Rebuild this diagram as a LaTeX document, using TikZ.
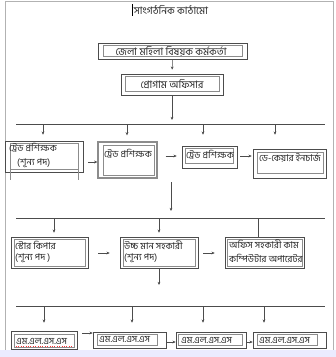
\documentclass[tikz,border=0pt]{standalone}
\usepackage{fontspec}
\newfontfamily\bn[Script=Bengali]{Hind Siliguri}
\usetikzlibrary{arrows.meta,fit}
\begin{document}
\begin{tikzpicture}[x=1pt,y=-1pt,
  outerbox/.style={draw=black!70, line width=0.6pt, inner sep=0pt, fill=none},
  shadowbox/.style={draw=black!45, line width=1.3pt, inner sep=0pt},
  innerbox/.style={draw=black!45, line width=0.4pt, inner sep=0pt},
  lbl/.style={font=\bn\fontsize{9.4}{11}\selectfont, text=black!85, inner sep=0pt, anchor=west},
  biglbl/.style={lbl, font=\bn\fontsize{10.3}{11}\selectfont},
  conn/.style={draw=black!70, line width=0.5pt},
  arr/.style={conn, -{Stealth[length=3.2pt,width=2.8pt]}},
]
\useasboundingbox (0,0) rectangle (336,357);
\fill[white] (0,0) rectangle (336,357);
\fill[blue!8!white] (0,350) rectangle (336,357);
\draw[black!30, line width=0.5pt] (5,350) -- (5,1) -- (333,1) -- (333,350);

% title
\node[biglbl, anchor=center] (title) at (171,10) {সাংগঠনিক কাঠামো};
\draw[black, line width=0.6pt] (title.west) ++(-1,-6) -- ++(0,12);

% level 1
\node[outerbox, fit={(98,43) (247,59)}] (b1) {};
\node[innerbox, fit={(103,45.5) (242,56)}] (b1i) {};
\node[biglbl, anchor=center] (t1) at (171,51) {জেলা মহিলা বিষয়ক কর্মকর্তা};

\node[outerbox, fit={(121,74) (223,95)}] (b2) {};
\node[innerbox, fit={(125,76.5) (219,91)}] (b2i) {};
\node[biglbl, anchor=center] (t2) at (172,84) {প্রোগাম অফিসার};

\draw[arr, shorten >=4pt] (b1.south) -- (b2.north);

% bus 1
\coordinate (bus1L) at (16,124);
\coordinate (bus1R) at (325,124);
\draw[conn] (bus1L) -- (bus1R);
\draw[arr, shorten >=4pt] (b2.south) -- (b2.south |- bus1L);

% row 2
\node[outerbox, fit={(5,141) (83,172)}] (bA) {};
\node[innerbox, fit={(10,143) (78,169)}] (bAi) {};
\draw[black!45, line width=0.4pt] (bAi.south west) -- ++(0,11) (bAi.south east) -- ++(0,11);
\node[lbl] (tA1) at (9,148) {ট্রেড প্রশিক্ষক};
\node[lbl] (tA2) at (17,163) {(শূন্য পদ)};

\node[shadowbox, fit={(98,142) (157,178)}] (bB) {};
\node[innerbox, fit={(103,145) (154,175)}] (bBi) {};
\node[lbl] (tB) at (104,154) {ট্রেড প্রশিক্ষক};

\node[outerbox, fit={(182,146) (237,168)}] (bC) {};
\node[innerbox, fit={(185,148) (233,163)}] (bCi) {};
\node[lbl] (tC) at (186,155) {ট্রেড প্রশিক্ষক};

\node[outerbox, fit={(253,149) (326,178)}] (bD) {};
\node[innerbox, fit={(257,152) (323,173)}] (bDi) {};
\node[lbl] (tD) at (259,158) {ডে-কেয়ার ইনচার্জ};

\coordinate (xA) at (43,124);
\coordinate (xB) at (127,124);
\coordinate (xC) at (203,124);
\coordinate (xD) at (275,124);
\draw[arr, shorten >=6pt] (xA) -- (xA |- bA.north);
\draw[arr, shorten >=6pt] (xB) -- (xB |- bB.north);
\draw[arr, shorten >=11pt] (xC) -- (xC |- bC.north);
\draw[arr, shorten >=14pt] (xD) -- (xD |- bD.north);

\coordinate (yAB) at (0,162);
\coordinate (yBC) at (0,156);
\draw[arr, shorten <=5pt] (bA.east |- yAB) -- (bB.west |- yAB);
\draw[arr, shorten <=8pt, shorten >=5pt] (bB.east |- yBC) -- (bC.west |- yBC);
\draw[arr, shorten <=3pt, shorten >=1pt] (bC.east |- yBC) -- (bD.west |- yBC);

% spine to bus 2
\coordinate (spine2) at (171,182);
\coordinate (bus2L) at (16,218);
\coordinate (bus2R) at (325,218);
\draw[conn] (bus2L) -- (bus2R);
\draw[arr, shorten >=7pt] (spine2) -- (spine2 |- bus2L);

% row 3
\node[outerbox, fit={(11,237) (88,268)}] (bE) {};
\node[innerbox, fit={(14,239) (85,266)}] (bEi) {};
\node[lbl] (tE1) at (15,245) {স্টোর কিপার};
\node[lbl] (tE2) at (15,258) {(শূন্য পদ )};

\node[outerbox, fit={(120,237) (198,268)}] (bF) {};
\node[innerbox, fit={(123,239) (195,266)}] (bFi) {};
\node[lbl] (tF1) at (124,245) {উচ্চ মান সহকারী};
\node[lbl] (tF2) at (124,258) {(শূন্য পদ)};

\node[outerbox, fit={(225,237) (304,268)}] (bG) {};
\node[innerbox, fit={(227,239) (302,266)}] (bGi) {};
\node[lbl] (tG1) at (229,244) {অফিস সহকারী কাম};
\node[lbl] (tG2) at (229,258) {কম্পিউটার অপারেটর};

\coordinate (xE) at (54,218);
\coordinate (xF) at (159,218);
\coordinate (xG) at (258,218);
\draw[arr, shorten >=4pt] (xE) -- (xE |- bE.north);
\draw[arr, shorten >=4pt] (xF) -- (xF |- bF.north);
\draw[conn] (xG) -- (xG |- bG.north);

\coordinate (yEF) at (0,253);
\draw[arr, shorten <=10pt, shorten >=10pt] (bE.east |- yEF) -- (bF.west |- yEF);
\draw[arr, shorten <=5pt, shorten >=10pt] (bF.east |- yEF) -- (bG.west |- yEF);

% F down
\coordinate (fend) at (159,285);
\draw[arr] (bF.south) -- (fend);

% bus 3
\coordinate (bus3L) at (16,306);
\coordinate (bus3R) at (325,306);
\draw[conn] (bus3L) -- (bus3R);

% row 4
\node[outerbox, fit={(11,331) (77,349)}] (bH) {};
\node[innerbox, fit={(14,334) (74,347)}] (bHi) {};
\node[lbl] (tH) at (16,341) {এম.এল.এস.এস};
\draw[red!80, line width=0.4pt, dotted] (16,346) -- (72,346);

\node[outerbox, fit={(93,332) (166,348)}] (bI) {};
\node[innerbox, fit={(97,334) (157,345)}] (bIi) {};
\node[lbl] (tI) at (99,339.5) {এম.এল.এস.এস};

\node[outerbox, fit={(176,332) (246,348)}] (bJ) {};
\node[innerbox, fit={(178,334) (242,345)}] (bJi) {};
\node[lbl] (tJ) at (181,340) {এম.এল.এস.এস};

\node[outerbox, fit={(253,332) (326,348)}] (bK) {};
\node[innerbox, fit={(257,334) (317,345)}] (bKi) {};
\node[lbl] (tK) at (259,340) {এম.এল.এস.এস};

\coordinate (xH) at (44,306);
\coordinate (xI) at (132,306);
\coordinate (xJ) at (203,306);
\coordinate (xK) at (264,306);
\draw[arr, shorten >=8pt] (xH) -- (xH |- bH.north);
\draw[arr, shorten >=9pt] (xI) -- (xI |- bI.north);
\draw[arr, shorten >=9pt] (xJ) -- (xJ |- bJ.north);
\draw[arr, shorten >=9pt] (xK) -- (xK |- bK.north);

\coordinate (yHI) at (0,333);
\coordinate (yIJ) at (0,342);
\draw[arr, shorten <=5pt] (bH.east |- yHI) -- (bI.west |- yHI);
\draw[arr, shorten <=1pt] (bI.east |- yIJ) -- (bJ.west |- yIJ);
\draw[arr, shorten <=1pt] (bJ.east |- yIJ) -- (bK.west |- yIJ);
\end{tikzpicture}
\end{document}
